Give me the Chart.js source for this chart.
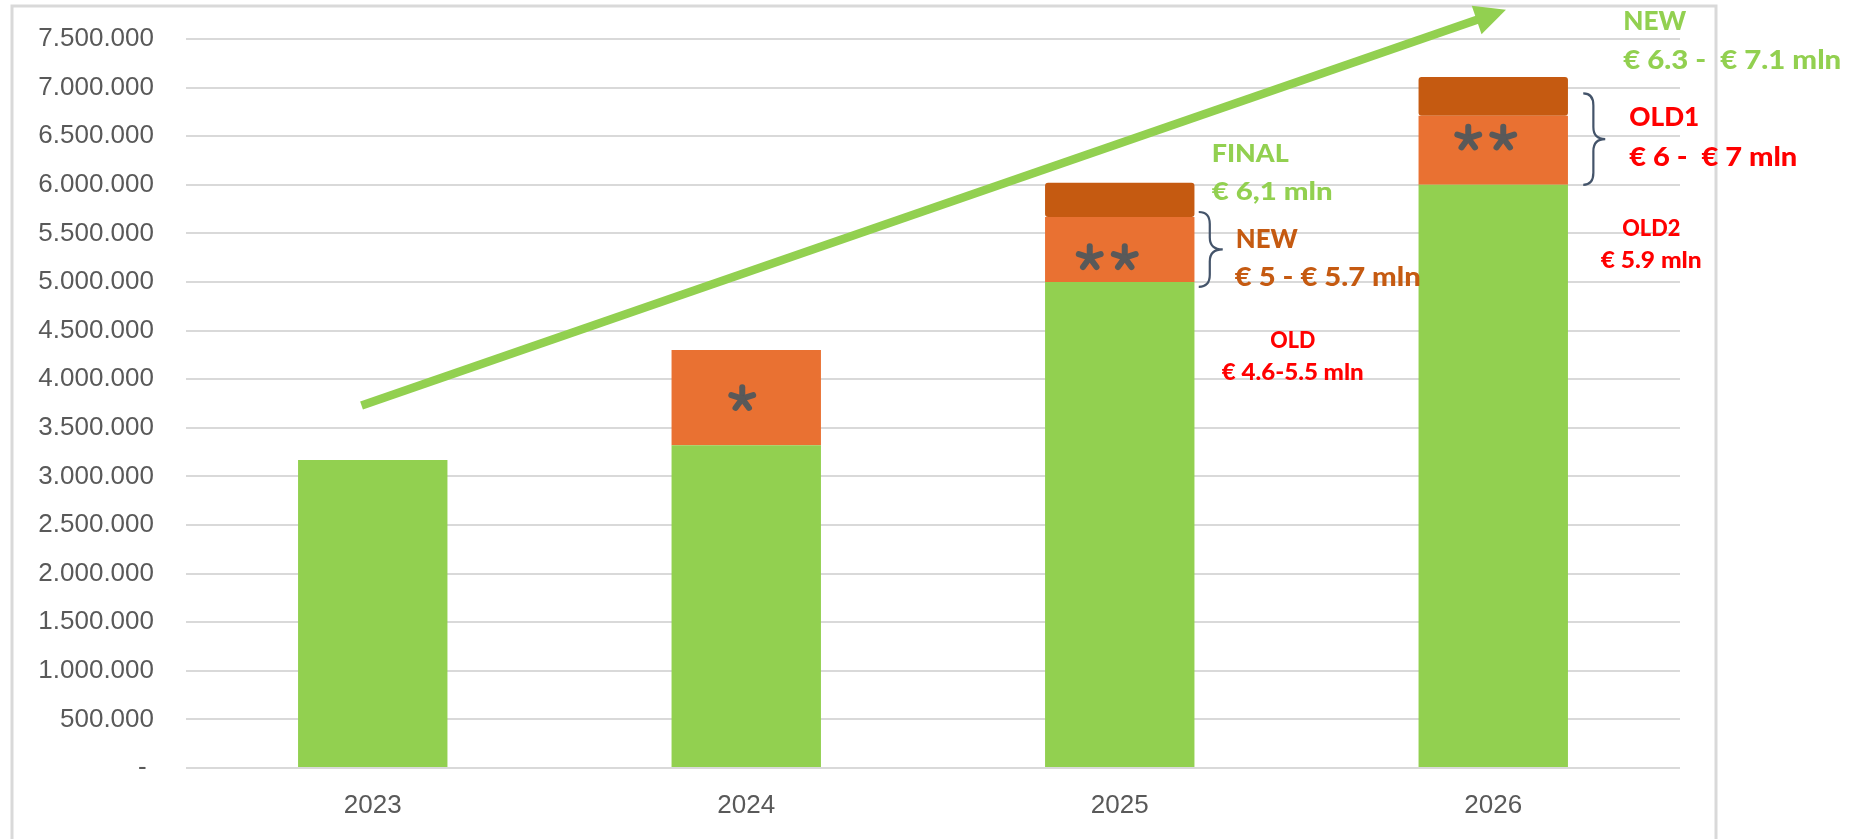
<!DOCTYPE html>
<html>
<head>
<meta charset="utf-8">
<script src="https://cdn.jsdelivr.net/npm/chart.js@4.4.1/dist/chart.umd.min.js"></script>
<style>
  html, body { margin: 0; padding: 0; background: #ffffff; overflow: hidden; }
  #wrap { position: relative; width: 1863px; height: 839px; }
</style>
</head>
<body>
<div id="wrap"><canvas id="c" width="1863" height="839"></canvas></div>
<script>
// ---------- data ----------
const categories   = ['2023', '2024', '2025', '2026'];
const baseBudget   = [3170000, 3320000, 5000000, 6000000];   // green
const extraBudget  = [null, 980000, 670000, 710000];          // orange
const finalTopUp   = [null, null, 350000, 400000];            // dark orange
const yTicks       = [0, 500000, 1000000, 1500000, 2000000, 2500000, 3000000, 3500000,
                      4000000, 4500000, 5000000, 5500000, 6000000, 6500000, 7000000, 7500000];
const starMarks    = ['', '*', '**', '**'];
const starLevels   = [null, 3800000, 5250000, 6480000];
const trendFrom    = [-0.03, 3730000];   // [category index, value]
const trendTo      = [3.034, 7800000];
const braceRanges  = [null, null, [4950000, 5720000], [6000000, 6940000]];

// annotation texts: category, value (baseline), text, colour
const notes = [
  { cat: 3, v: 7592000, text: 'NEW',                 color: '#92D050', size: 27, dx: 130, w: 63 },
  { cat: 3, v: 7191000, text: '€ 6.3 -  € 7.1 mln',  color: '#92D050', size: 27, dx: 130, w: 218 },
  { cat: 3, v: 6604000, text: 'OLD1',                color: '#FF0000', size: 27, dx: 136, w: 70 },
  { cat: 3, v: 6193000, text: '€ 6 -  € 7 mln',      color: '#FF0000', size: 27, dx: 136, w: 168 },
  { cat: 3, v: 5474000, text: 'OLD2',                color: '#FF0000', size: 23, dx: 158, w: 58,  center: true },
  { cat: 3, v: 5145000, text: '€ 5.9 mln',           color: '#FF0000', size: 22, dx: 158, w: 101, center: true },
  { cat: 2, v: 6235000, text: 'FINAL',               color: '#92D050', size: 25, dx: 92,  w: 77 },
  { cat: 2, v: 5845000, text: '€ 6,1 mln',           color: '#92D050', size: 25, dx: 92,  w: 121 },
  { cat: 2, v: 5352000, text: 'NEW',                 color: '#C55A11', size: 27, dx: 116, w: 62 },
  { cat: 2, v: 4961000, text: '€ 5 - € 5.7 mln',     color: '#C55A11', size: 27, dx: 115, w: 186 },
  { cat: 2, v: 4324000, text: 'OLD',                 color: '#FF0000', size: 23, dx: 173, w: 45,  center: true },
  { cat: 2, v: 3995000, text: '€ 4.6-5.5 mln',       color: '#FF0000', size: 23, dx: 173, w: 142, center: true }
];

// ---------- helpers ----------
function fmt(v) {
  if (v === 0) return '- ';
  return String(v).replace(/\B(?=(\d{3})+(?!\d))/g, '.');
}

function drawStar(ctx, cx, cy, r) {
  ctx.save();
  ctx.strokeStyle = '#595959';
  ctx.lineWidth = 6;
  ctx.lineCap = 'round';
  for (let k = 0; k < 5; k++) {
    const a = (-90 + 72 * k) * Math.PI / 180;
    ctx.beginPath();
    ctx.moveTo(cx, cy);
    ctx.lineTo(cx + Math.cos(a) * r, cy + Math.sin(a) * r);
    ctx.stroke();
  }
  ctx.restore();
}

function drawBrace(ctx, x, yTop, yBot, w) {
  const xm = x + w * 0.46;
  const ym = (yTop + yBot) / 2;
  const r = 12;
  ctx.save();
  ctx.strokeStyle = '#44546A';
  ctx.lineWidth = 2.2;
  ctx.beginPath();
  ctx.moveTo(x, yTop);
  ctx.quadraticCurveTo(xm, yTop, xm, yTop + r);
  ctx.lineTo(xm, ym - r);
  ctx.quadraticCurveTo(xm, ym, x + w, ym);
  ctx.quadraticCurveTo(xm, ym, xm, ym + r);
  ctx.lineTo(xm, yBot - r);
  ctx.quadraticCurveTo(xm, yBot, x, yBot);
  ctx.stroke();
  ctx.restore();
}

function drawNote(ctx, n, x, y) {
  ctx.save();
  ctx.font = '900 ' + n.size + 'px Lato, "Open Sans", sans-serif';
  ctx.fillStyle = n.color;
  ctx.textBaseline = 'alphabetic';
  ctx.textAlign = 'left';
  const mw = ctx.measureText(n.text).width;
  const sx = n.w / mw;
  const left = n.center ? x - n.w / 2 : x;
  ctx.translate(left, y);
  ctx.scale(sx, 1);
  ctx.fillText(n.text, 0, 0);
  ctx.restore();
}

const decor = {
  id: 'decor',
  beforeDraw(chart) {
    const ctx = chart.ctx;
    ctx.save();
    ctx.strokeStyle = '#D9D9D9';
    ctx.lineWidth = 3;
    ctx.strokeRect(12, 6, 1704, 900);
    ctx.restore();
  },
  afterDatasetsDraw(chart) {
    const ctx = chart.ctx;
    const xs = chart.scales.x, ys = chart.scales.y;
    const meta = chart.getDatasetMeta(0);

    // asterisks
    starMarks.forEach((s, i) => {
      if (!s) return;
      const cx = xs.getPixelForValue(i);
      const cy = ys.getPixelForValue(starLevels[i]);
      if (s.length === 1) {
        drawStar(ctx, cx - 4, cy, 11.5);
      } else {
        const off = i === 2 ? -30 : -25;
        drawStar(ctx, cx + off, cy, 11.5);
        drawStar(ctx, cx + off + 35, cy, 11.5);
      }
    });

    // braces
    braceRanges.forEach((r, i) => {
      if (!r) return;
      const bar = meta.data[i];
      const x0 = bar.x + (i === 2 ? 79 : 90);
      drawBrace(ctx, x0, ys.getPixelForValue(r[1]), ys.getPixelForValue(r[0]), i === 2 ? 24 : 22);
    });

    // trend arrow
    const p0 = { x: xs.getPixelForValue(trendFrom[0]), y: ys.getPixelForValue(trendFrom[1]) };
    const p1 = { x: xs.getPixelForValue(trendTo[0]),   y: ys.getPixelForValue(trendTo[1]) };
    const dx = p1.x - p0.x, dy = p1.y - p0.y;
    const L = Math.hypot(dx, dy);
    const ux = dx / L, uy = dy / L, nx = -uy, ny = ux;
    const headL = 31, headW = 15;
    const bx = p1.x - ux * headL, by = p1.y - uy * headL;
    ctx.save();
    ctx.strokeStyle = '#92D050';
    ctx.fillStyle = '#92D050';
    ctx.lineWidth = 8.5;
    ctx.lineCap = 'butt';
    ctx.beginPath();
    ctx.moveTo(p0.x, p0.y);
    ctx.lineTo(bx + ux * 2, by + uy * 2);
    ctx.stroke();
    ctx.beginPath();
    ctx.moveTo(p1.x, p1.y);
    ctx.lineTo(bx + nx * headW, by + ny * headW);
    ctx.lineTo(bx - nx * headW, by - ny * headW);
    ctx.closePath();
    ctx.fill();
    ctx.restore();

    // texts
    notes.forEach(n => {
      const x = xs.getPixelForValue(n.cat) + n.dx;
      const y = ys.getPixelForValue(n.v);
      drawNote(ctx, n, x, y);
    });
  }
};

const tickFont = { family: '"Liberation Sans", Arial, sans-serif', size: 26 };

new Chart(document.getElementById('c'), {
  type: 'bar',
  data: {
    labels: categories,
    datasets: [
      { data: baseBudget,  backgroundColor: '#92D050', barPercentage: 0.4, categoryPercentage: 1.0, stack: 's' },
      { data: extraBudget, backgroundColor: '#E97132', barPercentage: 0.4, categoryPercentage: 1.0, stack: 's' },
      { data: finalTopUp,  backgroundColor: '#C55A11', barPercentage: 0.4, categoryPercentage: 1.0, stack: 's',
        borderRadius: 3, borderSkipped: false }
    ]
  },
  options: {
    responsive: false,
    animation: false,
    devicePixelRatio: 1,
    layout: { padding: { left: 0, right: 183, top: 39, bottom: 0 } },
    plugins: { legend: { display: false }, tooltip: { enabled: false } },
    scales: {
      x: {
        stacked: true,
        grid: { display: false, drawTicks: false },
        border: { display: false },
        ticks: { font: tickFont, color: '#595959', padding: 22 },
        afterFit(s) { s.height = 71; }
      },
      y: {
        stacked: true,
        min: 0,
        max: 7500000,
        afterBuildTicks(s) { s.ticks = yTicks.map(v => ({ value: v })); },
        ticks: { font: tickFont, color: '#595959', padding: 32, callback: v => fmt(v) },
        grid: { color: '#D9D9D9', lineWidth: 2, drawTicks: false },
        border: { display: false },
        afterFit(s) { s.width = 186; s.paddingTop = 0; s.paddingBottom = 0; }
      }
    }
  },
  plugins: [decor]
});
</script>
</body>
</html>
